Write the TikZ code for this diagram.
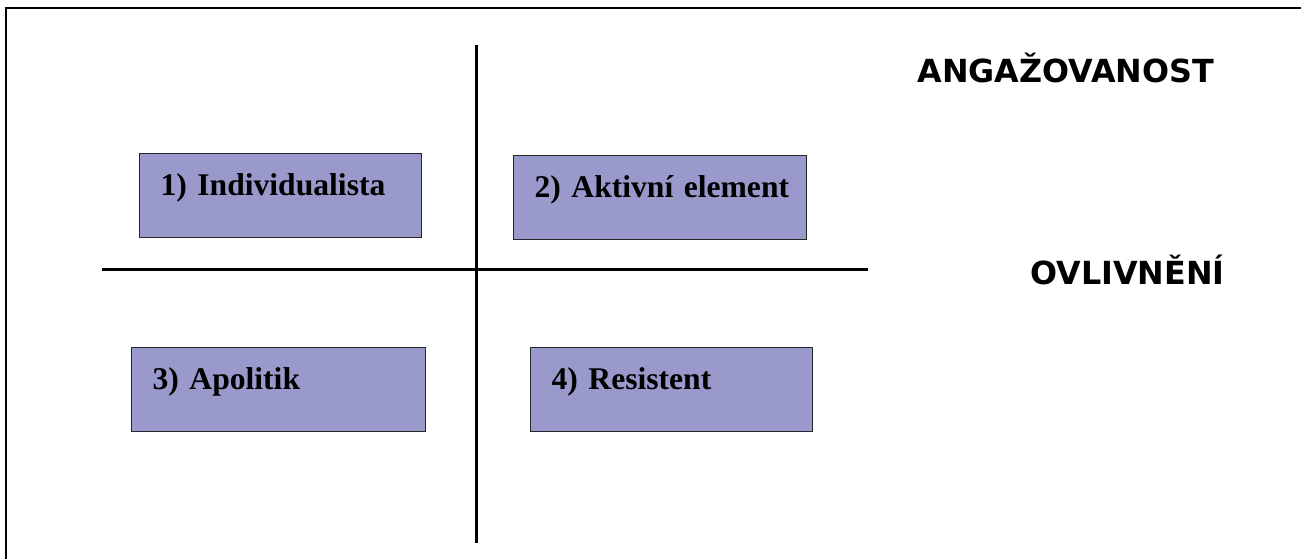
\documentclass[tikz,border=0pt]{standalone}
\usepackage{fontspec}
\setmainfont{Liberation Serif}
\newfontfamily\axisfont{DejaVu Sans}
\definecolor{boxfill}{HTML}{9999CC}
\tikzset{
  typbox/.style={draw=black!85, line width=0.6pt, fill=boxfill, anchor=north west,
    minimum width=141pt, minimum height=42pt, text width=120pt, align=left,
    inner xsep=10.5pt, inner ysep=9.5pt, text height=11.5pt, text depth=11.5pt,
    font=\fontsize{15.8}{18}\selectfont\bfseries},
  osa/.style={anchor=base west, inner sep=0pt, font=\fontsize{15.9}{18}\selectfont\axisfont\bfseries}
}
\begin{document}
\begin{tikzpicture}[x=0.5pt,y=-0.5pt]
\useasboundingbox (0,0) rectangle (1301,559);
\draw[line width=1pt] (5.5,559)--(5.5,8)--(1301,8);
\coordinate (nahore) at (476,45);
\coordinate (dole) at (476,543);
\coordinate (vlevo) at (102,269);
\coordinate (vpravo) at (868,269);
\draw[line width=1.5pt] (nahore)--(dole);
\draw[line width=1.5pt] (vlevo)--(vpravo);
\node[typbox] (ind) at (139,153) {\mbox{1) Individualista}};
\node[typbox, minimum width=146.5pt, text width=125.5pt] (akt) at (513,155) {\mbox{2) Aktivní element}};
\node[typbox, minimum width=147pt, text width=126pt] (apo) at (131,347) {\mbox{3) Apolitik}};
\node[typbox] (res) at (530,347) {\mbox{4) Resistent}};
\node[osa] (ang) at (917,82) {ANGAŽOVANOST};
\node[osa] (ovl) at (1030,284) {OVLIVNĚNÍ};
\end{tikzpicture}
\end{document}
